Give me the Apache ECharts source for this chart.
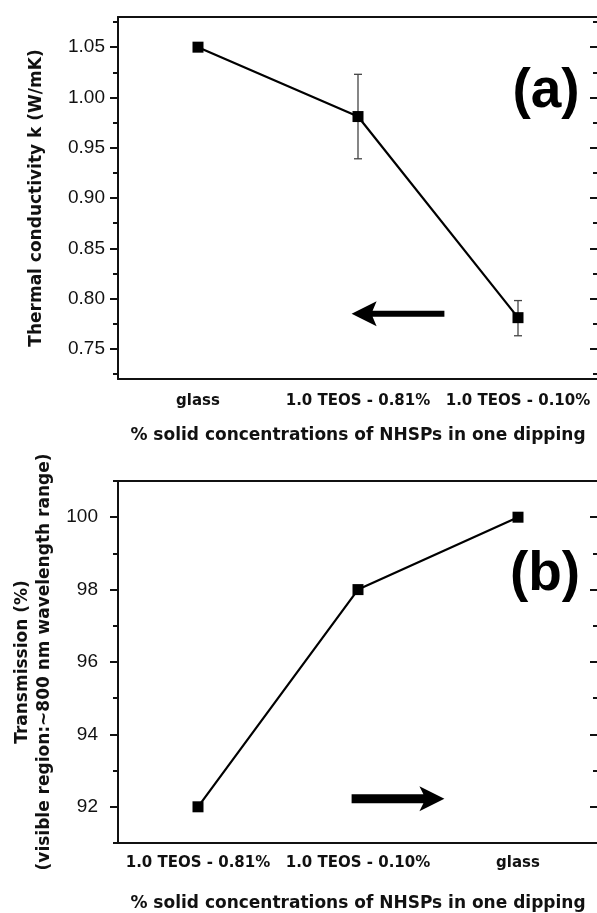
<!DOCTYPE html>
<html>
<head>
<meta charset="utf-8">
<title>Thermal conductivity / transmission</title>
<script src="https://cdn.jsdelivr.net/npm/echarts@6.0.0/dist/echarts.min.js"></script>
<style>
html, body { margin: 0; padding: 0; background: #fff; }
#main { width: 597px; height: 913px; }
</style>
</head>
<body>
<div id="main"></div>
<script>
// ---- panel (a) data
var catsA = ['glass', '1.0 TEOS - 0.81%', '1.0 TEOS - 0.10%'];
var kValues = [1.05, 0.981, 0.781];
var kErrLow = [null, 0.939, 0.763];
var kErrHigh = [null, 1.023, 0.798];
var kTicks = [0.75, 0.80, 0.85, 0.90, 0.95, 1.00, 1.05];
var kMinor = [0.725, 0.775, 0.825, 0.875, 0.925, 0.975, 1.025, 1.075];

// ---- panel (b) data
var catsB = ['1.0 TEOS - 0.81%', '1.0 TEOS - 0.10%', 'glass'];
var transValues = [92, 98, 100];
var tTicks = [92, 94, 96, 98, 100];
var tMinor = [91, 93, 95, 97, 99, 101];

// arrows: [tail, tip, level] in category-index units / axis value
var arrowA = [1.54, 0.96, 0.785];
var arrowB = [0.96, 1.54, 92.22];

var black = '#111';
var xName = '% solid concentrations of NHSPs in one dipping';

function yAxisSet(gi, min, max, major, minor, digits, labelMargin, name, nameGap, lineHeight) {
  function base(extra) {
    return Object.assign({
      type: 'value', gridIndex: gi, min: min, max: max,
      splitLine: { show: false },
      axisLabel: { show: false },
      axisLine: { show: false, onZero: false }
    }, extra);
  }
  return [
    base({
      position: 'left',
      axisLine: { show: true, onZero: false, lineStyle: { color: black, width: 2 } },
      axisTick: { show: true, length: 8, customValues: major, lineStyle: { color: black, width: 2 } },
      axisLabel: {
        show: true, customValues: major, margin: labelMargin,
        fontFamily: 'Liberation Sans', fontSize: 19, color: black,
        formatter: function (v) { return v.toFixed(digits); }
      },
      name: name, nameLocation: 'middle', nameGap: nameGap,
      nameTextStyle: { fontFamily: 'DejaVu Sans', fontWeight: 'bold', fontSize: 17, color: black, lineHeight: lineHeight }
    }),
    base({
      position: 'left',
      axisTick: { show: true, length: 5, customValues: minor, lineStyle: { color: black, width: 2 } }
    }),
    base({
      position: 'right',
      axisLine: { show: true, onZero: false, lineStyle: { color: black, width: 2 } },
      axisTick: { show: true, inside: true, length: 8, customValues: major, lineStyle: { color: black, width: 2 } }
    }),
    base({
      position: 'right',
      axisTick: { show: true, inside: true, length: 5, customValues: minor, lineStyle: { color: black, width: 2 } }
    })
  ];
}

function xAxisSet(gi, cats, labelMargin, nameGap) {
  return [
    {
      type: 'category', gridIndex: gi, data: cats, position: 'bottom',
      axisLine: { onZero: false, lineStyle: { color: black, width: 2 } },
      axisTick: { alignWithLabel: true, length: 7, lineStyle: { color: black, width: 2 } },
      axisLabel: { interval: 0, margin: labelMargin, fontFamily: 'DejaVu Sans', fontWeight: 'bold', fontSize: 15, color: black },
      name: xName, nameLocation: 'middle', nameGap: nameGap,
      nameTextStyle: { fontFamily: 'DejaVu Sans', fontWeight: 'bold', fontSize: 17, color: black }
    },
    {
      type: 'category', gridIndex: gi, data: cats, position: 'top',
      axisLine: { onZero: false, lineStyle: { color: black, width: 2 } },
      axisTick: { alignWithLabel: true, inside: true, length: 7, lineStyle: { color: black, width: 2 } },
      axisLabel: { show: false }
    },
    { type: 'value', gridIndex: gi, min: -0.5, max: 2.5, show: false, axisLine: { onZero: false } }
  ];
}

function renderErr(params, api) {
  var x = api.value(0);
  var lo = api.coord([x, api.value(1)]);
  var hi = api.coord([x, api.value(2)]);
  var w = 4;
  var st = { stroke: '#444', lineWidth: 1.3 };
  return {
    type: 'group',
    children: [
      { type: 'line', shape: { x1: lo[0], y1: lo[1], x2: hi[0], y2: hi[1] }, style: st },
      { type: 'line', shape: { x1: lo[0] - w, y1: lo[1], x2: lo[0] + w, y2: lo[1] }, style: st },
      { type: 'line', shape: { x1: hi[0] - w, y1: hi[1], x2: hi[0] + w, y2: hi[1] }, style: st }
    ]
  };
}

function arrowRenderer(shaft) {
  return function (params, api) {
    var p0 = api.coord([api.value(0), api.value(2)]);
    var p1 = api.coord([api.value(1), api.value(2)]);
    var d = p1[0] > p0[0] ? 1 : -1;
    var y = p0[1];
    var headLen = 25, headHalf = 12.5, notch = 4;
    var bx = p1[0] - d * headLen;
    return {
      type: 'polygon',
      shape: {
        points: [
          [p0[0], y - shaft], [bx + d * notch, y - shaft], [bx, y - headHalf],
          [p1[0], y], [bx, y + headHalf], [bx + d * notch, y + shaft], [p0[0], y + shaft]
        ]
      },
      style: { fill: '#000' }
    };
  };
}

var errDataA = [];
for (var i = 0; i < catsA.length; i++) {
  if (kErrLow[i] != null) errDataA.push([i, kErrLow[i], kErrHigh[i]]);
}

var panelFont = { fontFamily: 'Liberation Sans', fontWeight: 'bold', fontSize: 55, fill: '#000', align: 'center', verticalAlign: 'middle' };

var chart = echarts.init(document.getElementById('main'));
chart.setOption({
  animation: false,
  backgroundColor: '#fff',
  grid: [
    { left: 118, top: 17, width: 480, height: 362, containLabel: false, outerBoundsMode: 'none' },
    { left: 118, top: 481, width: 480, height: 362, containLabel: false, outerBoundsMode: 'none' }
  ],
  xAxis: xAxisSet(0, catsA, 15, 48).concat(xAxisSet(1, catsB, 13, 52)),
  yAxis: yAxisSet(0, 0.72, 1.08, kTicks, kMinor, 2, 13, 'Thermal conductivity k (W/mK)', 71, 20)
    .concat(yAxisSet(1, 91, 101, tTicks, tMinor, 0, 20,
      'Transmission (%)\n(visible region:~800 nm wavelength range)', 61, 22)),
  graphic: [
    { type: 'text', x: 546, y: 92, style: Object.assign({ text: '(a)' }, panelFont) },
    { type: 'text', x: 545, y: 575, style: Object.assign({ text: '(b)' }, panelFont) }
  ],
  series: [
    {
      type: 'custom', xAxisIndex: 0, yAxisIndex: 0, renderItem: renderErr,
      data: errDataA, z: 2, silent: true
    },
    {
      type: 'line', xAxisIndex: 0, yAxisIndex: 0, data: kValues,
      symbol: 'rect', symbolSize: 11, showAllSymbol: true,
      itemStyle: { color: '#000' }, lineStyle: { color: '#000', width: 2.2 }, z: 3
    },
    {
      type: 'custom', xAxisIndex: 2, yAxisIndex: 0, renderItem: arrowRenderer(3),
      data: [arrowA], silent: true
    },
    {
      type: 'line', xAxisIndex: 3, yAxisIndex: 4, data: transValues,
      symbol: 'rect', symbolSize: 11, showAllSymbol: true,
      itemStyle: { color: '#000' }, lineStyle: { color: '#000', width: 2.2 }, z: 3
    },
    {
      type: 'custom', xAxisIndex: 5, yAxisIndex: 4, renderItem: arrowRenderer(4.5),
      data: [arrowB], silent: true
    }
  ]
});
</script>
</body>
</html>
